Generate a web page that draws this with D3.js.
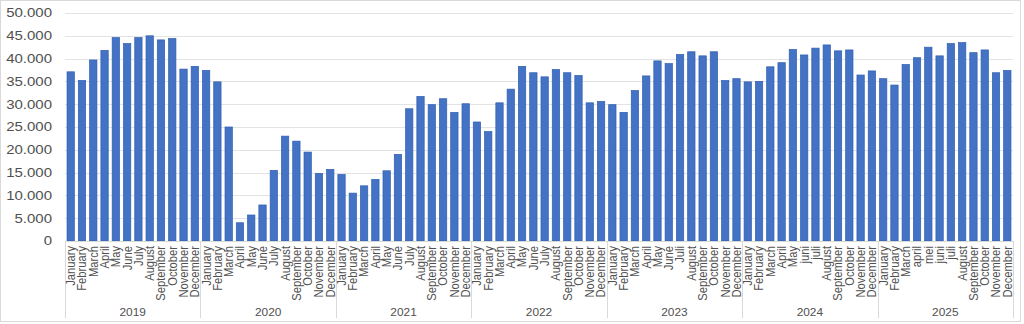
<!DOCTYPE html>
<html>
<head>
<meta charset="utf-8">
<script src="https://cdn.jsdelivr.net/npm/d3@7"></script>
<style>
  html, body { margin: 0; padding: 0; background: #ffffff; }
  svg { display: block; }
  text { font-family: "Liberation Sans", Arial, sans-serif; fill: #505050; }
</style>
</head>
<body>
<svg id="chart" width="1024" height="324"></svg>
<script>
// Monthly values per year
const years = ["2019", "2020", "2021", "2022", "2023", "2024", "2025"];

const months2019to2022 = ["January", "February", "March", "April", "May", "June", "July", "August", "September", "October", "November", "December"];
const months2023 = ["January", "February", "March", "April", "May", "June", "Juli", "August", "September", "October", "November", "December"];
const months2024 = ["January", "February", "March", "April", "May", "juni", "juli", "August", "September", "October", "November", "December"];
const months2025 = ["January", "February", "March", "april", "mei", "juni", "juli", "August", "September", "October", "November", "December"];

const values2019 = [37100, 35200, 39700, 41800, 44600, 43300, 44600, 45000, 44100, 44400, 37700, 38300];
const values2020 = [37400, 34900, 25000, 4000, 5700, 7900, 15500, 23000, 21900, 19500, 14800, 15700];
const values2021 = [14600, 10500, 12100, 13500, 15400, 19000, 29000, 31700, 29900, 31200, 28200, 30100];
const values2022 = [26100, 24000, 30300, 33300, 38300, 36900, 36000, 37600, 36900, 36300, 30300, 30600];
const values2023 = [29900, 28200, 33000, 36200, 39500, 38900, 40900, 41500, 40600, 41500, 35200, 35600];
const values2024 = [34900, 35000, 38200, 39100, 42000, 40800, 42300, 43000, 41700, 41900, 36400, 37300];
const values2025 = [35600, 34200, 38700, 40200, 42500, 40600, 43300, 43500, 41300, 41900, 36900, 37400];

const yTicks = [0, 5000, 10000, 15000, 20000, 25000, 30000, 35000, 40000, 45000, 50000];

const monthLabels = [months2019to2022, months2019to2022, months2019to2022, months2019to2022, months2023, months2024, months2025];
const yearValues = [values2019, values2020, values2021, values2022, values2023, values2024, values2025];

// Flatten into one row per bar
const rows = [];
years.forEach((yr, i) => {
  monthLabels[i].forEach((m, j) => {
    rows.push({ key: yr + "-" + j, year: yr, month: m, value: yearValues[i][j] });
  });
});

const svg = d3.select("#chart");
const plotLeft = 65, plotRight = 1013, plotTop = 13, plotBottom = 241;

const fmt = d3.formatLocale({ decimal: ",", thousands: ".", grouping: [3], currency: ["€", ""] }).format(",");

const x = d3.scaleBand()
  .domain(rows.map(d => d.key))
  .range([plotLeft, plotRight])
  .paddingInner(0.35)
  .paddingOuter(0.18);

const y = d3.scaleLinear().domain([0, 50000]).range([plotBottom, plotTop]);

// Outer chart frame
svg.append("rect")
  .attr("x", 0.5).attr("y", 0.5)
  .attr("width", 1020).attr("height", 321)
  .attr("fill", "none").attr("stroke", "#d9d9d9").attr("stroke-width", 1);

// Horizontal gridlines
svg.append("g")
  .selectAll("line")
  .data(yTicks.filter(t => t > 0))
  .join("line")
  .attr("x1", plotLeft).attr("x2", plotRight)
  .attr("y1", d => Math.round(y(d)) + 0.5)
  .attr("y2", d => Math.round(y(d)) + 0.5)
  .attr("stroke", "#e3e3e3").attr("stroke-width", 1);

// Y axis labels
svg.append("g")
  .selectAll("text")
  .data(yTicks)
  .join("text")
  .attr("transform", d => `translate(52,${y(d)}) scale(1.19,1)`)
  .attr("text-anchor", "end")
  .attr("dy", "0.35em")
  .style("font-size", "12.6px")
  .text(d => fmt(d));

// Bars
svg.append("g")
  .selectAll("rect")
  .data(rows)
  .join("rect")
  .attr("x", d => x(d.key))
  .attr("y", d => y(d.value))
  .attr("width", x.bandwidth())
  .attr("height", d => y(0) - y(d.value))
  .attr("fill", "#4472c4")
  .attr("stroke", "#2f5fb0")
  .attr("stroke-width", 0.7);

// Category axis line
svg.append("line")
  .attr("x1", plotLeft).attr("x2", plotRight)
  .attr("y1", plotBottom + 0.5).attr("y2", plotBottom + 0.5)
  .attr("stroke", "#d9d9d9");

// Year separators
const yearEdges = d3.range(years.length + 1).map(i => plotLeft + (plotRight - plotLeft) * i / years.length);
svg.append("g")
  .selectAll("line")
  .data(yearEdges)
  .join("line")
  .attr("x1", d => Math.round(d) + 0.5).attr("x2", d => Math.round(d) + 0.5)
  .attr("y1", plotBottom).attr("y2", 318)
  .attr("stroke", "#d9d9d9");

// Month labels, rotated
svg.append("g")
  .selectAll("text")
  .data(rows)
  .join("text")
  .attr("transform", d => `translate(${x(d.key) + x.bandwidth() / 2},246) scale(1.12,1) rotate(-90)`)
  .attr("text-anchor", "end")
  .attr("dy", "0.35em")
  .style("font-size", "11.2px")
  .text(d => d.month);

// Year labels
svg.append("g")
  .selectAll("text")
  .data(years)
  .join("text")
  .attr("transform", (d, i) => `translate(${(yearEdges[i] + yearEdges[i + 1]) / 2},316) scale(1.1,1)`)
  .attr("text-anchor", "middle")
  .style("font-size", "10.8px")
  .text(d => d);
</script>
</body>
</html>
